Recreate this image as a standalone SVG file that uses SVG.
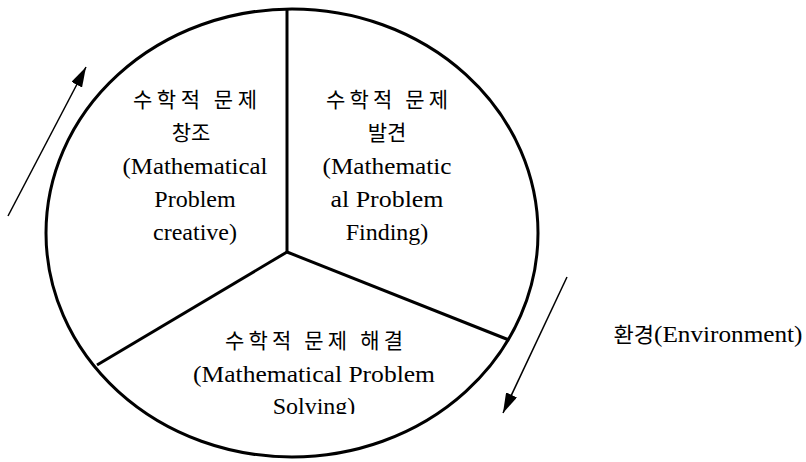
<svg xmlns="http://www.w3.org/2000/svg" width="806" height="462" viewBox="0 0 806 462">
<style>
.k{font-family:"Noto Sans CJK KR","Noto Sans",sans-serif;font-size:21px;fill:#000;text-anchor:middle}
.e{font-family:"Liberation Serif","Noto Sans CJK KR",serif;font-size:24px;fill:#000;text-anchor:middle}
.b{fill:none;stroke:#000;stroke-width:3}
.a{fill:none;stroke:#000;stroke-width:1.5}
</style>
<defs>
<marker id="ah" viewBox="0 0 20 12" refX="20" refY="6" markerWidth="20" markerHeight="12" markerUnits="userSpaceOnUse" orient="auto">
<path d="M0,0 L20,6 L0,12 Z" fill="#000"/>
</marker>
<clipPath id="cl"><rect x="0" y="0" width="806" height="414"/></clipPath>
</defs>
<rect width="806" height="462" fill="#fff"/>
<g id="connectors">
<ellipse class="b" cx="292" cy="233" rx="246" ry="224"/>
<line class="b" x1="287" y1="9" x2="287" y2="252"/>
<line class="b" x1="287" y1="252" x2="97" y2="365"/>
<line class="b" x1="287" y1="252" x2="509" y2="340"/>
<line class="a" x1="8" y1="216" x2="86" y2="67" marker-end="url(#ah)"/>
<line class="a" x1="567" y1="277" x2="503" y2="413" marker-end="url(#ah)"/>
</g>
<g id="node-creative">
<text class="k" x="195" y="107" textLength="124" lengthAdjust="spacing">수학적 문제</text>
<text class="k" x="191" y="140">창조</text>
<text class="e" x="195" y="174" textLength="145" lengthAdjust="spacingAndGlyphs">(Mathematical</text>
<text class="e" x="195" y="207">Problem</text>
<text class="e" x="195" y="240">creative)</text>
</g>
<g id="node-finding">
<text class="k" x="387" y="107" textLength="122" lengthAdjust="spacing">수학적 문제</text>
<text class="k" x="387" y="140">발견</text>
<text class="e" x="387" y="174" textLength="129" lengthAdjust="spacingAndGlyphs">(Mathematic</text>
<text class="e" x="387" y="207" textLength="113" lengthAdjust="spacingAndGlyphs">al Problem</text>
<text class="e" x="387" y="240">Finding)</text>
</g>
<g id="node-solving">
<text class="k" x="314" y="348" textLength="178" lengthAdjust="spacing">수학적 문제 해결</text>
<text class="e" x="314" y="382" textLength="242" lengthAdjust="spacingAndGlyphs">(Mathematical Problem</text>
<text class="e" x="314" y="414" clip-path="url(#cl)">Solving)</text>
</g>
<g id="node-environment">
<text class="e" x="708" y="342" textLength="189" lengthAdjust="spacingAndGlyphs"><tspan font-family="Noto Sans CJK KR, sans-serif" font-size="21">환경</tspan>(Environment)</text>
</g>
</svg>
